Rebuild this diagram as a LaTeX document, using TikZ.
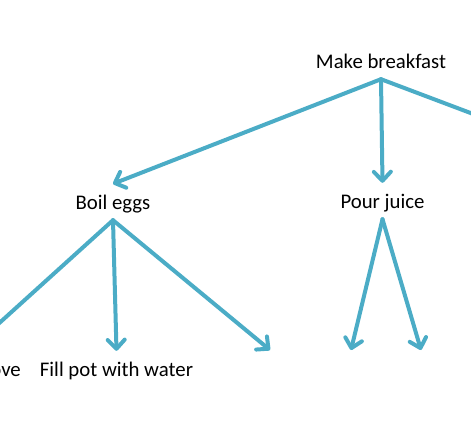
\documentclass[tikz,border=0pt]{standalone}
\usepackage{fontspec}
\setmainfont{Carlito}
\usetikzlibrary{arrows.meta}
\definecolor{linkblue}{RGB}{75,172,198}
\tikzset{
  lbl/.style={font=\fontsize{20.8}{25}\selectfont, text=black, text height=14pt, text depth=0pt, inner ysep=11pt, inner xsep=0pt},
  link/.style={draw=linkblue, line width=4pt, line cap=round, line join=round},
  arr/.style={link, -{Straight Barb[length=9pt,width=17pt,round]}}
}
\begin{document}
\begin{tikzpicture}[x=1pt,y=-1pt]
\useasboundingbox (0,0) rectangle (471,437);
\node[lbl, anchor=base] (mb) at (381,68) {Make breakfast};
\node[lbl, anchor=base] (be) at (113,209) {Boil eggs};
\node[lbl, anchor=base] (pj) at (382.5,208) {Pour juice};
\node[lbl, anchor=base] (fp) at (116.5,376) {Fill pot with water};
\node[lbl, anchor=base east] (ov) at (21,376) {ove};
\coordinate (offR) at (505,126);
\coordinate (offL) at (-25,345);
\coordinate (t1) at (270,350);
\coordinate (t2) at (351,350);
\coordinate (t3) at (421,350);
\draw[arr] (mb.south) -- (be.north);
\draw[arr] (mb.south) -- (pj.north);
\draw[link] (mb.south) -- (offR);
\draw[link] (be.south) -- (offL);
\draw[arr] (be.south) -- (fp.north);
\draw[arr] (be.south) -- (t1);
\draw[arr] (pj.south) -- (t2);
\draw[arr] (pj.south) -- (t3);
\end{tikzpicture}
\end{document}
